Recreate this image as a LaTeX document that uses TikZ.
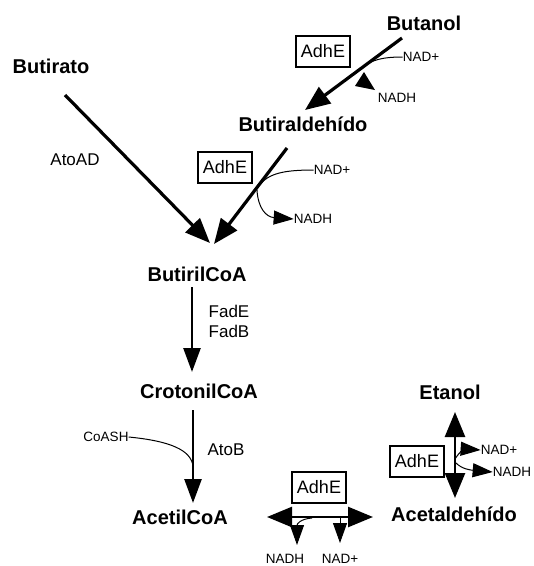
\documentclass[tikz,border=0pt]{standalone}
\usepackage{fontspec}
\setmainfont{Liberation Sans}
\usetikzlibrary{arrows.meta}
\begin{document}
\begin{tikzpicture}[x=1pt,y=-1pt,
 met/.style={font=\fontsize{20}{24}\selectfont\bfseries, inner sep=0pt},
 enz/.style={font=\fontsize{17}{20}\selectfont, inner sep=0pt},
 cof/.style={font=\fontsize{13.5}{16}\selectfont, inner sep=0pt},
 enzbox/.style={draw, line width=2pt, minimum width=54pt, minimum height=31pt, inner sep=0pt, font=\fontsize{18}{20}\selectfont},
 mainarr/.style={line width=3.2pt, -{Triangle[length=25pt,width=20pt]}},
 vertarr/.style={line width=2.6pt, -{Triangle[length=24pt,width=17pt]}},
 dblarr/.style={line width=2.6pt, {Triangle[length=25pt,width=20pt]}-{Triangle[length=25pt,width=20pt]}},
 sideln/.style={line width=1pt},
 sidearr/.style={line width=1pt, -{Triangle[length=20pt,width=14pt]}},
]
\useasboundingbox (0,0) rectangle (534,566);

% metabolites
\node[met] (butanol) at (424,23) {Butanol};
\node[met] (butirato) at (51,66) {Butirato};
\node[met] (butiral) at (303,124) {Butiraldehído};
\node[met] (butiril) at (197,274) {ButirilCoA};
\node[met] (croton) at (199,391) {CrotonilCoA};
\node[met] (acetil) at (180,517) {AcetilCoA};
\node[met] (acetal) at (454,514) {Acetaldehído};
\node[met] (etanol) at (450,392) {Etanol};

% enzymes
\node[enz] (atoad) at (75,160) {AtoAD};
\node[enz] (fade) at (229,311) {FadE};
\node[enz] (fadb) at (229,331) {FadB};
\node[enz] (atob) at (226,450) {AtoB};
\node[enzbox] (adh1) at (323,51) {AdhE};
\node[enzbox] (adh2) at (225,167) {AdhE};
\node[enzbox] (adh3) at (319,487) {AdhE};
\node[enzbox] (adh4) at (417,461) {AdhE};

% cofactors
\node[cof] (nadp1) at (421,57) {NAD+};
\node[cof] (nadh1) at (397,98) {NADH};
\node[cof] (nadp2) at (332,170) {NAD+};
\node[cof] (nadh2) at (313,219) {NADH};
\node[cof] (coash) at (106,437) {CoASH};
\node[cof] (nadh3) at (285,559) {NADH};
\node[cof] (nadp3) at (340,559) {NAD+};
\node[cof] (nadp4) at (499,450) {NAD+};
\node[cof] (nadh4) at (512,472) {NADH};

% connector end points
\coordinate (a1s) at (402,38);
\coordinate (a1e) at (305,110);
\coordinate (a2s) at (287,148);
\coordinate (a2e) at (214,244);
\coordinate (a3s) at (65,95);
\coordinate (a3e) at (210,243);
\coordinate (v1s) at (192,287);
\coordinate (v1e) at (192,372);
\coordinate (v2s) at (193,410);
\coordinate (v2e) at (193,503);
\coordinate (h1l) at (267,517);
\coordinate (h1r) at (373,517);
\coordinate (e1t) at (455,412);
\coordinate (e1b) at (455,498);

% main reactions
\draw[mainarr] (a1s) -- (a1e);
\draw[mainarr] (a2s) -- (a2e);
\draw[mainarr] (a3s) -- (a3e);
\draw[vertarr] (v1s) -- (v1e);
\draw[vertarr] (v2s) -- (v2e);
\draw[dblarr] (h1l) -- (h1r);
\draw[dblarr] (e1t) -- (e1b);

% cofactor branches
\draw[sideln] (nadp1.west) .. controls (382,57) and (372,60) .. (363,67);
\fill (364,72) -- (355,86) -- (375,90) -- cycle;
\draw[sideln] (nadp2.west) .. controls (285,170) and (268,173) .. (259,186);
\draw[sidearr] (257,190) .. controls (258,208) and (266,217) .. (nadh2.west);
\draw[sideln] (coash.east) .. controls (170,441) and (191,450) .. (193,466);
\draw[sidearr] (312,518) .. controls (300,519) and (297,524) .. (297,545);
\draw[sidearr] (340,518) -- (340,543);
\draw[sidearr] (455,459) .. controls (460,451) and (465,449) .. (nadp4.west);
\draw[sidearr] (456,463) .. controls (462,469) and (470,470) .. (nadh4.west);
\end{tikzpicture}
\end{document}
